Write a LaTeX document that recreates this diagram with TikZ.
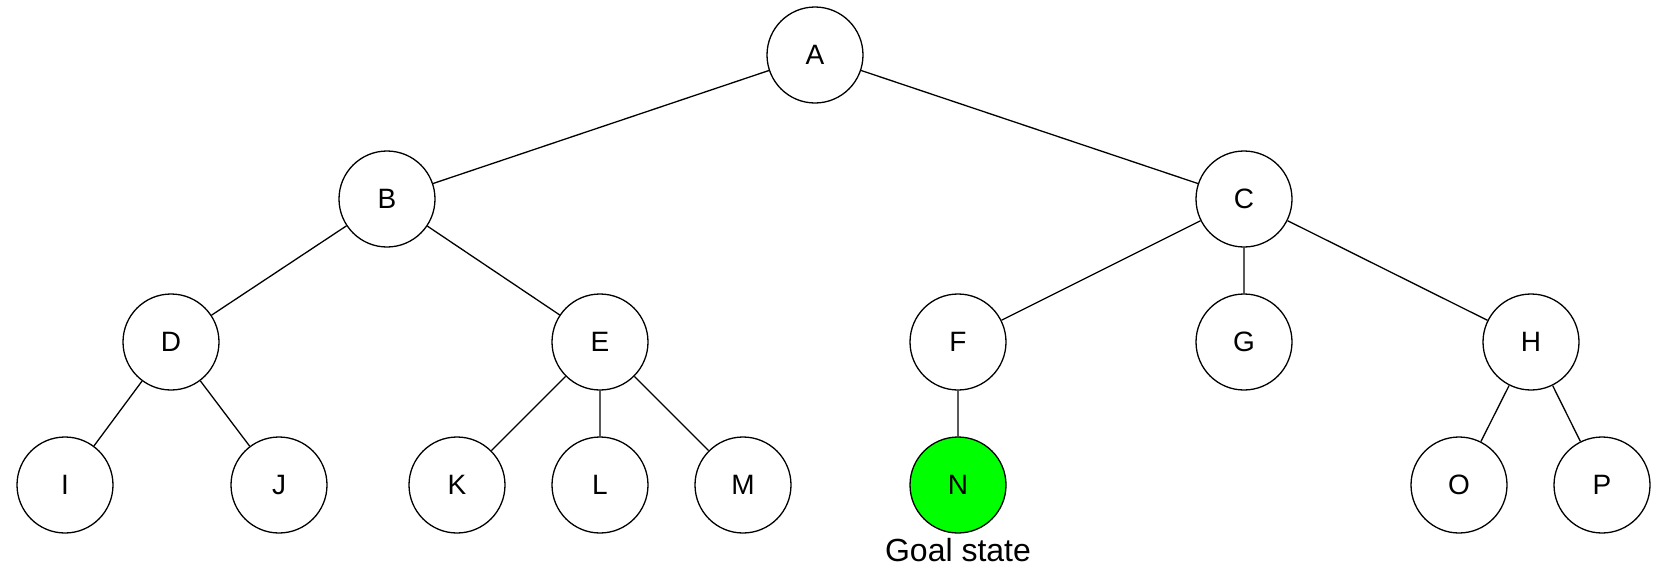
\documentclass[tikz,border=0pt]{standalone}
\usepackage{fontspec}
\setmainfont{Liberation Sans}
\begin{document}
\begin{tikzpicture}[x=1pt,y=-1pt,
  st/.style={circle,draw=black,line width=1.3pt,fill=white,minimum size=96pt,inner sep=0pt,font=\fontsize{28}{30}\selectfont},
  goal/.style={st,fill=green},
  edge/.style={draw=black,line width=1.3pt}]
\useasboundingbox (0,0) rectangle (1675,568);
\node[st] (A) at (815,55) {A};
\node[st] (B) at (387,199) {B};
\node[st] (C) at (1244,199) {C};
\node[st] (D) at (171,342) {D};
\node[st] (E) at (600,342) {E};
\node[st] (F) at (958,342) {F};
\node[st] (G) at (1244,342) {G};
\node[st] (H) at (1531,342) {H};
\node[st] (I) at (65,485) {I};
\node[st] (J) at (279,485) {J};
\node[st] (K) at (457,485) {K};
\node[st] (L) at (600,485) {L};
\node[st] (M) at (743,485) {M};
\node[goal] (N) at (958,485) {N};
\node[st] (O) at (1459,485) {O};
\node[st] (P) at (1602,485) {P};
\node[anchor=base,inner sep=0pt,font=\fontsize{32}{34}\selectfont] (goaltext) at (958,561) {Goal state};
\path[edge] (A) -- (B) (A) -- (C)
  (B) -- (D) (B) -- (E)
  (C) -- (F) (C) -- (G) (C) -- (H)
  (D) -- (I) (D) -- (J)
  (E) -- (K) (E) -- (L) (E) -- (M)
  (F) -- (N)
  (H) -- (O) (H) -- (P);
\end{tikzpicture}
\end{document}
